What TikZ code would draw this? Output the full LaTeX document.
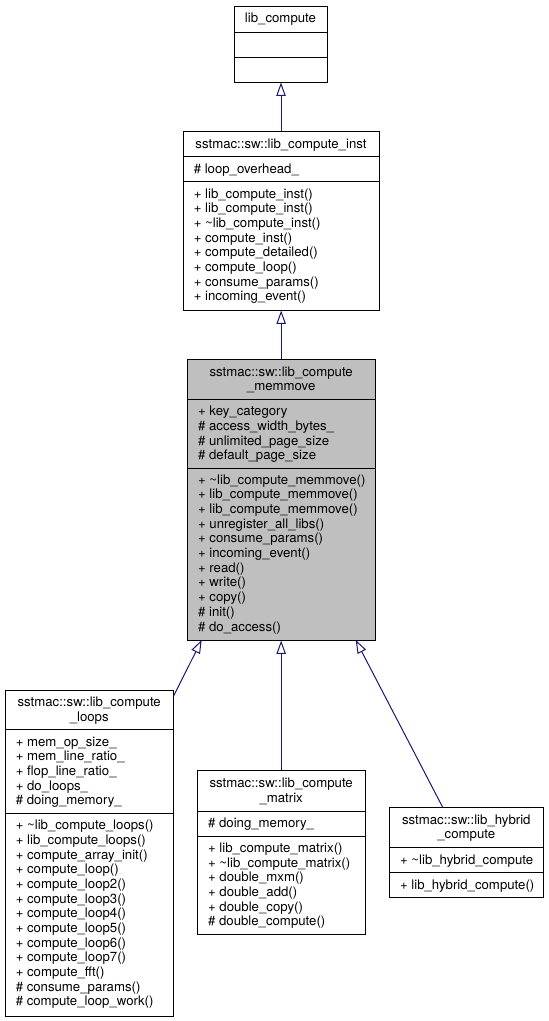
\documentclass[tikz,border=0pt]{standalone}
\usepackage{fontspec}
\setmainfont{TeX Gyre Heros}
\usetikzlibrary{arrows.meta,fit}
\definecolor{edgeblue}{HTML}{191970}
\definecolor{grayfill}{HTML}{BFBFBF}
\newcommand\mbrlist[4]{%
  \foreach [count=\i from 0] \t in {#4} {
    \node[mbr] (#3-\i) at ({#1},{#2+\i*14.67}) {\t};
  }%
}
\begin{document}
\begin{tikzpicture}[x=0.75pt,y=-0.75pt,
  every node/.style={font=\fontsize{9.9pt}{11pt}\selectfont},
  box/.style={draw=black, line width=0.75pt, inner sep=0pt},
  sep/.style={draw=black, line width=0.75pt},
  ttl/.style={anchor=base, inner sep=0pt},
  mbr/.style={anchor=base west, inner sep=0pt},
  inh/.style={draw=edgeblue, line width=0.75pt, -{Triangle[length=10pt,width=7pt,fill=white]}}]
\useasboundingbox (0,0) rectangle (549,1021);

% lib_compute
\node[box, fit={(234,6) (327,82)}] (LC) {};
\draw[sep] (234,32) -- (327,32);
\draw[sep] (234,57) -- (327,57);
\node[ttl] (LCt) at (280.5,22.5) {lib\_compute};

% lib_compute_inst
\node[box, fit={(183,131.5) (379,310)}] (LCI) {};
\draw[sep] (183,156.7) -- (379,156.7);
\draw[sep] (183,181.7) -- (379,181.7);
\node[ttl] (LCIt) at (281,148) {sstmac::sw::lib\_compute\_inst};
\mbrlist{193.5}{173.2}{lcia}{\#~loop\_overhead\_}
\mbrlist{193.5}{198.2}{lcim}{+ lib\_compute\_inst(),+ lib\_compute\_inst(),+ \textasciitilde lib\_compute\_inst(),+ compute\_inst(),+ compute\_detailed(),+ compute\_loop(),+ consume\_params(),+ incoming\_event()}

% lib_compute_memmove
\node[box, fill=grayfill, fit={(187.3,359.3) (375,640)}] (MM) {};
\draw[sep] (187.3,399.3) -- (375,399.3);
\draw[sep] (187.3,468.3) -- (375,468.3);
\node[ttl] (MMt1) at (281.2,376) {sstmac::sw::lib\_compute};
\node[ttl] (MMt2) at (281.2,390.7) {\_memmove};
\mbrlist{197.8}{415.8}{mma}{+ key\_category,\#~access\_width\_bytes\_,\#~unlimited\_page\_size,\#~default\_page\_size}
\mbrlist{197.8}{484.3}{mmm}{+ \textasciitilde lib\_compute\_memmove(),+ lib\_compute\_memmove(),+ lib\_compute\_memmove(),+ unregister\_all\_libs(),+ consume\_params(),+ incoming\_event(),+ read(),+ write(),+ copy(),\#~init(),\#~do\_access()}

% lib_compute_loops
\node[box, fit={(5,690) (173.5,1016.7)}] (LP) {};
\draw[sep] (5,729.5) -- (173.5,729.5);
\draw[sep] (5,813.3) -- (173.5,813.3);
\node[ttl] (LPt1) at (89.2,706.7) {sstmac::sw::lib\_compute};
\node[ttl] (LPt2) at (89.2,721.4) {\_loops};
\mbrlist{15.5}{746}{lpa}{+ mem\_op\_size\_,+ mem\_line\_ratio\_,+ flop\_line\_ratio\_,+ do\_loops\_,\#~doing\_memory\_}
\mbrlist{15.5}{829.8}{lpm}{+ \textasciitilde lib\_compute\_loops(),+ lib\_compute\_loops(),+ compute\_array\_init(),+ compute\_loop(),+ compute\_loop2(),+ compute\_loop3(),+ compute\_loop4(),+ compute\_loop5(),+ compute\_loop6(),+ compute\_loop7(),+ compute\_fft(),\#~consume\_params(),\#~compute\_loop\_work()}

% lib_compute_matrix
\node[box, fit={(197.3,770.7) (365,934)}] (MX) {};
\draw[sep] (197.3,811) -- (365,811);
\draw[sep] (197.3,836) -- (365,836);
\node[ttl] (MXt1) at (281.2,787.4) {sstmac::sw::lib\_compute};
\node[ttl] (MXt2) at (281.2,802.1) {\_matrix};
\mbrlist{207.8}{827.5}{mxa}{\#~doing\_memory\_}
\mbrlist{207.8}{852.5}{mxm}{+ lib\_compute\_matrix(),+ \textasciitilde lib\_compute\_matrix(),+ double\_mxm(),+ double\_add(),+ double\_copy(),\#~double\_compute()}

% lib_hybrid_compute
\node[box, fit={(389.3,807.3) (543.3,897.3)}] (HY) {};
\draw[sep] (389.3,847.7) -- (543.3,847.7);
\draw[sep] (389.3,872.7) -- (543.3,872.7);
\node[ttl] (HYt1) at (466.3,824) {sstmac::sw::lib\_hybrid};
\node[ttl] (HYt2) at (466.3,838.7) {\_compute};
\mbrlist{399.8}{864.2}{hya}{+ \textasciitilde lib\_hybrid\_compute}
\mbrlist{399.8}{889.2}{hym}{+ lib\_hybrid\_compute()}

% inheritance edges
\coordinate (lpEnd) at (173.3,696.7);
\coordinate (mmL) at (201.7,640);
\coordinate (hyEnd) at (442.7,807.3);
\coordinate (mmR) at (355.7,640);
\draw[inh] (LCI.north) -- (LCI.north |- LC.south);
\draw[inh] (MM.north) -- (MM.north |- LCI.south);
\draw[inh] (lpEnd) -- (mmL);
\draw[inh] (MX.north) -- (MX.north |- MM.south);
\draw[inh] (hyEnd) -- (mmR);
\end{tikzpicture}
\end{document}
